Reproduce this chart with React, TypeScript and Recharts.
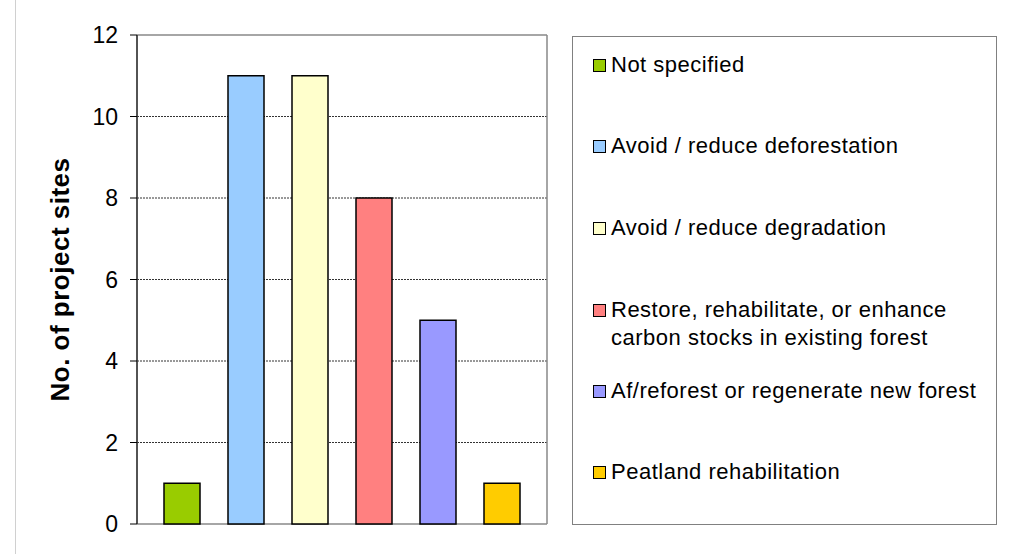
import { BarChart, Bar, XAxis, YAxis, CartesianGrid, Cell } from "recharts";

const categories = [
  "Not specified",
  "Avoid / reduce deforestation",
  "Avoid / reduce degradation",
  "Restore, rehabilitate, or enhance carbon stocks in existing forest",
  "Af/reforest or regenerate new forest",
  "Peatland rehabilitation",
];
const siteCounts = [1, 11, 11, 8, 5, 1];
const yTicks = [0, 2, 4, 6, 8, 10, 12];
const gridValues = [2, 4, 6, 8, 10];

const COLORS = ["#99cc00", "#99ccff", "#ffffcc", "#ff8080", "#9999ff", "#ffcc00"];
// legend text wraps the long item onto two lines
const LEGEND_LINES = [
  ["Not specified"],
  ["Avoid / reduce deforestation"],
  ["Avoid / reduce degradation"],
  ["Restore, rehabilitate, or enhance", "carbon stocks in existing forest"],
  ["Af/reforest or regenerate new forest"],
  ["Peatland rehabilitation"],
];
const LEGEND_Y = [64, 145, 227, 309, 390, 471];

const FONT = "Arial, 'Liberation Sans', sans-serif";
const FRAME = "#888";

const data = categories.map((name, i) => ({ name, value: siteCounts[i] }));

function LegendBox() {
  return (
    <div
      style={{
        position: "absolute",
        left: 572,
        top: 36,
        width: 425,
        height: 489,
        border: "1px solid #808080",
        boxSizing: "border-box",
        fontFamily: FONT,
        fontSize: 22,
        letterSpacing: 0.5,
        color: "#000",
      }}
    >
      {LEGEND_LINES.map((lines, i) => (
        <div
          key={i}
          style={{
            position: "absolute",
            left: 20,
            top: LEGEND_Y[i] - 36 - 14,
            display: "flex",
            alignItems: "flex-start",
          }}
        >
          <span
            style={{
              display: "inline-block",
              flex: "none",
              width: 11,
              height: 11,
              marginTop: 8,
              marginRight: 5,
              background: COLORS[i],
              border: "1px solid #000",
            }}
          />
          <span style={{ lineHeight: "28px", whiteSpace: "nowrap" }}>
            {lines.map((l, j) => (
              <div key={j}>{l}</div>
            ))}
          </span>
        </div>
      ))}
    </div>
  );
}

export default function App() {
  return (
    <div
      style={{
        position: "absolute",
        left: 0,
        top: 0,
        width: 1016,
        height: 554,
        background: "#fff",
        fontFamily: FONT,
      }}
    >
      <div style={{ position: "absolute", left: 15, top: 0, width: 1, height: 554, background: "#d0d0d0" }} />
      <BarChart
        width={1016}
        height={554}
        data={data}
        margin={{ top: 35, right: 469, bottom: 30, left: 0 }}
        barSize={36}
      >
        {/* dotted value gridlines */}
        <CartesianGrid
          horizontal
          vertical={false}
          horizontalValues={gridValues}
          stroke="#333"
          strokeDasharray="2 1"
        />
        {/* grey frame round the plot area */}
        <CartesianGrid
          stroke={FRAME}
          strokeWidth={1.5}
          horizontalCoordinatesGenerator={({ offset }: any) => [offset.top, offset.top + offset.height]}
          verticalCoordinatesGenerator={({ offset }: any) => [offset.left, offset.left + offset.width]}
        />
        {/* category axis for the bars, inset so the columns sit in from the frame */}
        <XAxis dataKey="name" hide padding={{ left: 13, right: 13 }} />
        <YAxis
          domain={[0, 12]}
          ticks={yTicks}
          width={137}
          tickSize={7}
          tickMargin={12}
          tickLine={{ stroke: "#000" }}
          axisLine={{ stroke: "#000" }}
          tick={{ fill: "#000", fontSize: 23, fontFamily: FONT }}
          label={{
            value: "No. of project sites",
            angle: -90,
            position: "insideLeft",
            offset: 60,
            style: {
              textAnchor: "middle",
              fontSize: 26,
              fontWeight: "bold",
              letterSpacing: 0.5,
              fill: "#000",
              fontFamily: FONT,
            },
          }}
        />
        <Bar dataKey="value" stroke="#000" strokeWidth={1.5} isAnimationActive={false}>
          {data.map((_, i) => (
            <Cell key={i} fill={COLORS[i]} />
          ))}
        </Bar>
      </BarChart>
      <LegendBox />
    </div>
  );
}
